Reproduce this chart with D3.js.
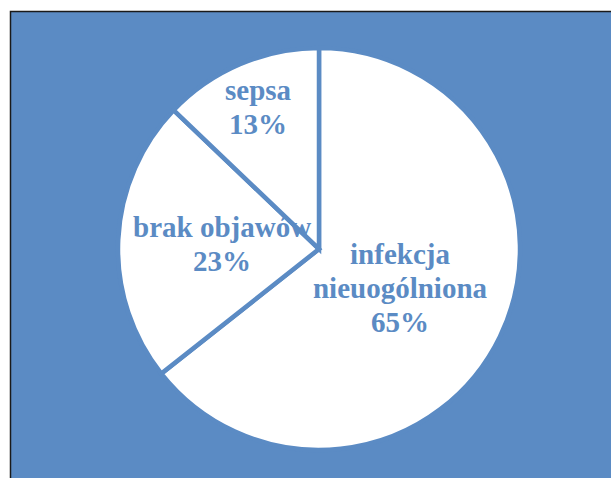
<!DOCTYPE html>
<html>
<head>
<meta charset="utf-8">
<script src="https://cdn.jsdelivr.net/npm/d3@7"></script>
<style>
  body { margin: 0; background: #fff; }
  svg { display: block; }
</style>
</head>
<body>
<svg id="chart"></svg>
<script>
// chart data
var categories = ['infekcja nieuogólniona', 'brak objawów', 'sepsa'];
var values = [65, 23, 13];
var labelLines = [['infekcja', 'nieuogólniona', '65%'], ['brak objawów', '23%'], ['sepsa', '13%']];

var svgWidth = 611, svgHeight = 478;
var blue = '#5b8bc4';

var svg = d3.select('#chart')
    .attr('width', svgWidth)
    .attr('height', svgHeight);

// background panel with black left/top edge
svg.append('rect')
    .attr('x', 10.5)
    .attr('y', 11.5)
    .attr('width', 700)
    .attr('height', 700)
    .attr('fill', blue)
    .attr('stroke', '#1a1a1a')
    .attr('stroke-width', 1.5);

var cx = 319, cy = 249, radius = 201;

var g = svg.append('g')
    .attr('transform', 'translate(' + cx + ',' + cy + ')');

var pie = d3.pie()
    .sort(null)
    .value(function (d) { return d; });

var arcs = pie(values);

var arc = d3.arc()
    .innerRadius(0)
    .outerRadius(radius);

g.selectAll('path')
    .data(arcs)
    .enter()
    .append('path')
    .attr('d', arc)
    .attr('fill', '#fff')
    .attr('stroke', blue)
    .attr('stroke-width', 4.5)
    .attr('stroke-linejoin', 'miter');

// label distance from centre, per slice (best-fit placement)
var labelRadius = [90, 97, 155];
var lineHeight = 34;

arcs.forEach(function (a, i) {
    var c = d3.arc().innerRadius(labelRadius[i]).outerRadius(labelRadius[i]).centroid(a);
    var lines = labelLines[i];
    var text = g.append('text')
        .attr('text-anchor', 'middle')
        .attr('font-family', '"Liberation Serif", "Times New Roman", serif')
        .attr('font-weight', 'bold')
        .attr('font-size', '29px')
        .attr('fill', blue);
    lines.forEach(function (line, j) {
        text.append('tspan')
            .attr('x', c[0])
            .attr('y', c[1] + (j - (lines.length - 1) / 2) * lineHeight + 10)
            .text(line);
    });
});
</script>
</body>
</html>
